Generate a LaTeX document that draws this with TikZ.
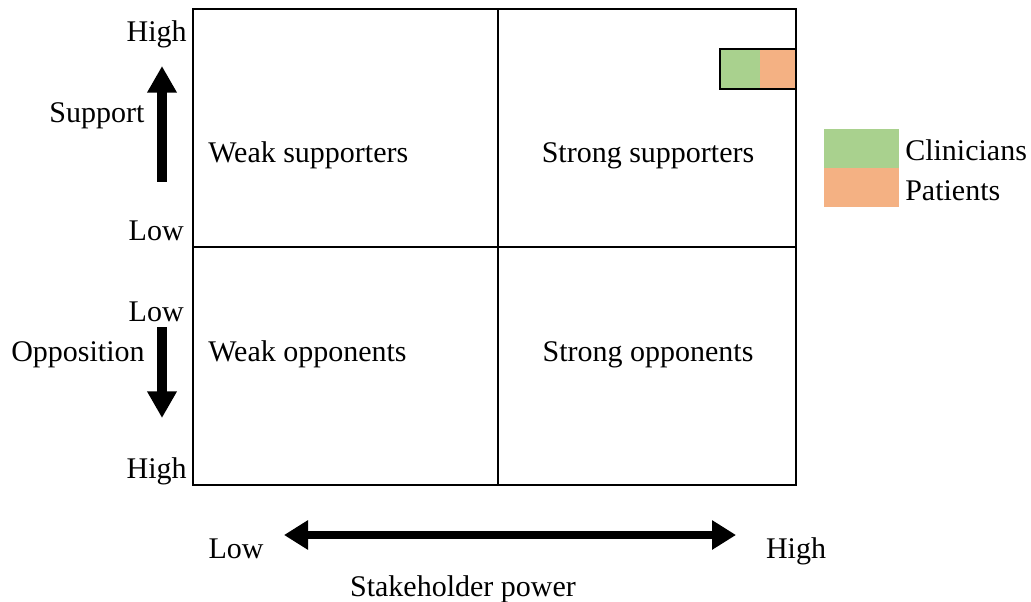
\documentclass[tikz,border=0pt]{standalone}
\usepackage{fontspec}
\setmainfont{Liberation Serif}
\usetikzlibrary{arrows.meta}
\definecolor{clingreen}{HTML}{A9D18E}
\definecolor{patorange}{HTML}{F4B183}
\begin{document}
\begin{tikzpicture}[x=0.75pt,y=-0.75pt,
  lbl/.style={inner sep=0pt,font=\fontsize{22.5}{26}\selectfont,text height=15pt,text depth=4.5pt,yshift=-3pt},
  grid/.style={line width=1.5pt},
  bigarrow/.style={line width=7.5pt,-{Triangle[length=20pt,width=21pt]}},
  dblarrow/.style={line width=6.5pt,{Triangle[length=18pt,width=21pt]}-{Triangle[length=18pt,width=21pt]}}]
\useasboundingbox (0,0) rectangle (1031,602);
% quadrant grid
\draw[grid] (193,9) rectangle (796,485);
\draw[grid] (498,9) -- (498,485);
\draw[grid] (193,247) -- (796,247);
% stakeholder marker
\fill[clingreen] (720,49) rectangle (760,89);
\fill[patorange] (760,49) rectangle (796,89);
\draw[grid] (720,49) rectangle (796,89);
% legend
\fill[clingreen] (824,129) rectangle (899,168);
\fill[patorange] (824,168) rectangle (899,207);
\node[lbl,anchor=west] (lcl) at (905,150) {Clinicians};
\node[lbl,anchor=west] (lpa) at (905,190) {Patients};
% quadrant labels
\node[lbl,anchor=west] (ws) at (208,152) {Weak supporters};
\node[lbl] (ss) at (648,152) {Strong supporters};
\node[lbl,anchor=west] (wo) at (208,350) {Weak opponents};
\node[lbl] (so) at (648,350) {Strong opponents};
% support axis
\node[lbl,anchor=east] (shigh) at (187,31) {High};
\node[lbl,anchor=east] (slow) at (184,230) {Low};
\node[lbl] (sup) at (97,112) {Support};
\coordinate (su0) at (162,182);
\coordinate (su1) at (162,66);
\draw[bigarrow] (su0) -- (su1);
% opposition axis
\node[lbl,anchor=east] (olow) at (184,310) {Low};
\node[lbl,anchor=east] (ohigh) at (187,467) {High};
\node[lbl] (opp) at (78,350) {Opposition};
\coordinate (op0) at (162,327);
\coordinate (op1) at (162,418);
\draw[bigarrow] (op0) -- (op1);
% power axis
\node[lbl] (plow) at (236,547) {Low};
\node[lbl] (phigh) at (796,547) {High};
\node[lbl] (pow) at (463,585) {Stakeholder power};
\coordinate (pw0) at (284,535);
\coordinate (pw1) at (736,535);
\draw[dblarrow] (pw0) -- (pw1);
\end{tikzpicture}
\end{document}
